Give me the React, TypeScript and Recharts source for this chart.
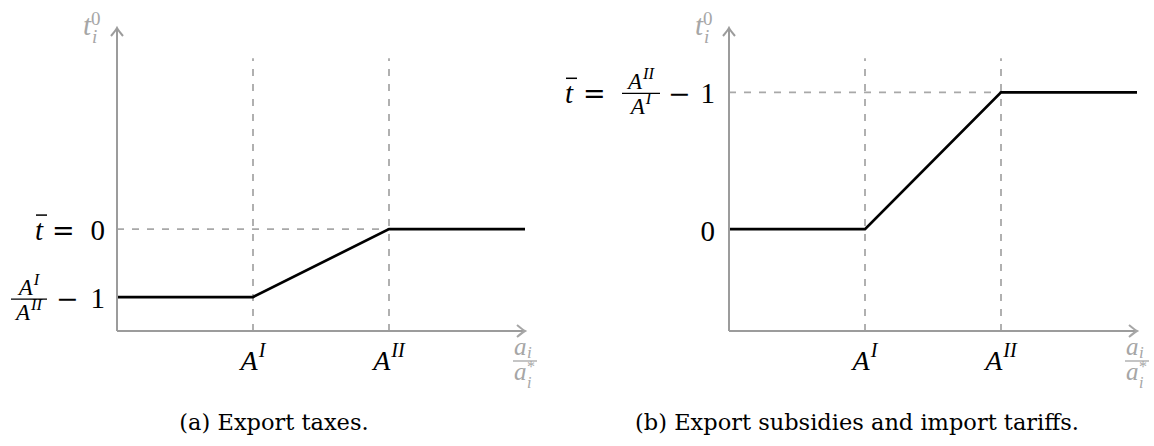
import { LineChart, Line, XAxis, YAxis, ReferenceLine, ReferenceDot } from 'recharts';

// piecewise policy schedules t_i^0 against a_i / a_i^*
const xPoints = [0, 1, 2, 3];
const taxValues = [-1, -1, 0, 0];
const subsidyValues = [0, 0, 1, 1];

const xTicks = [1, 2];
const xTickSup = ['I', 'II'];
const taxTicks = [-1, 0];
const subsidyTicks = [0, 1];

const captions = ['(a) Export taxes.', '(b) Export subsidies and import tariffs.'];

const MATH = '"Liberation Serif", "DejaVu Serif", serif';
const OP = '"DejaVu Serif", serif';
const GRAY = '#9c9c9c';
const DASH = '#a8a8a8';
const LABEL = '#a6a6a6';

const taxData = xPoints.map((x, i) => ({ x, y: taxValues[i] }));
const subsidyData = xPoints.map((x, i) => ({ x, y: subsidyValues[i] }));

function SupA({ sup, size }: { sup: string; size: number }) {
  return (
    <>
      <tspan fontStyle="italic">A</tspan>
      <tspan fontStyle="italic" fontSize={size * 0.72} dy={-size * 0.45} dx={1}>
        {sup}
      </tspan>
    </>
  );
}

function Frac({ cx, barY, half, num, den }: { cx: number; barY: number; half: number; num: string; den: string }) {
  return (
    <g fontFamily={MATH} fill="#000">
      <text x={cx} y={barY - 4} textAnchor="middle" fontSize={23}>
        <SupA sup={num} size={23} />
      </text>
      <line x1={cx - half} x2={cx + half} y1={barY} y2={barY} stroke="#000" strokeWidth={1.3} />
      <text x={cx} y={barY + 21} textAnchor="middle" fontSize={23}>
        <SupA sup={den} size={23} />
      </text>
    </g>
  );
}

function TBar({ x, y }: { x: number; y: number }) {
  return (
    <g>
      <text x={x} y={y} fontFamily={MATH} fontStyle="italic" fontSize={29} fill="#000">
        t
      </text>
      <line x1={x + 1} x2={x + 12} y1={y - 25} y2={y - 25} stroke="#000" strokeWidth={1.5} />
    </g>
  );
}

function Num({ x, y, v }: { x: number; y: number; v: string }) {
  return (
    <text x={x} y={y} textAnchor="end" fontFamily={MATH} fontSize={29} fill="#000">
      {v}
    </text>
  );
}

function Op({ x, y, v }: { x: number; y: number; v: string }) {
  return (
    <text x={x} y={y} fontFamily={OP} fontSize={27} fill="#000">
      {v}
    </text>
  );
}

function XTick(props: any) {
  const { x, y, payload } = props;
  const sup = xTickSup[xTicks.indexOf(payload.value)];
  return (
    <text x={x} y={y + 39} textAnchor="middle" fontFamily={MATH} fontSize={28} fill="#000">
      <SupA sup={sup} size={28} />
    </text>
  );
}

function TaxTick(props: any) {
  const { x, y, payload } = props;
  const R = x - 12;
  const b = y + 11;
  if (payload.value === 0) {
    return (
      <g>
        <TBar x={R - 70} y={b} />
        <Op x={R - 53} y={b} v="=" />
        <Num x={R} y={b} v="0" />
      </g>
    );
  }
  return (
    <g>
      <Frac cx={R - 76} barY={y + 2} half={18} num="I" den="II" />
      <Op x={R - 49} y={b} v="−" />
      <Num x={R} y={b} v="1" />
    </g>
  );
}

function SubsidyTick(props: any) {
  const { x, y, payload } = props;
  const R = x - 14;
  const b = y + 11;
  if (payload.value === 0) {
    return <Num x={R} y={y + 12} v="0" />;
  }
  return (
    <g>
      <TBar x={R - 150} y={b} />
      <Op x={R - 132} y={b} v="=" />
      <Frac cx={R - 74} barY={y + 1} half={19} num="II" den="I" />
      <Op x={R - 47} y={b} v="−" />
      <Num x={R} y={b} v="1" />
    </g>
  );
}

function ArrowUp(props: any) {
  const { cx, cy } = props;
  return (
    <g>
      <path
        d={`M${cx - 6},${cy + 8} Q${cx - 1},${cy + 2} ${cx},${cy} Q${cx + 1},${cy + 2} ${cx + 6},${cy + 8}`}
        fill="none"
        stroke={GRAY}
        strokeWidth={2}
      />
      <text x={cx - 34} y={cy + 7} fontFamily={MATH} fill={LABEL} fontSize={29}>
        <tspan fontStyle="italic">t</tspan>
        <tspan x={cx - 26} dy={-10} fontSize={19}>0</tspan>
        <tspan x={cx - 25} dy={18} fontSize={19} fontStyle="italic">i</tspan>
      </text>
    </g>
  );
}

function ArrowRight(props: any) {
  const { cx, cy } = props;
  return (
    <g>
      <path
        d={`M${cx - 8},${cy - 6} Q${cx - 2},${cy - 1} ${cx},${cy} Q${cx - 2},${cy + 1} ${cx - 8},${cy + 6}`}
        fill="none"
        stroke={LABEL}
        strokeWidth={2}
      />
      <text x={cx - 11} y={cy + 24} fontFamily={MATH} fill={LABEL} fontSize={25} fontStyle="italic">
        a<tspan x={cx + 2} dy={3} fontSize={17}>i</tspan>
      </text>
      <line x1={cx - 12} x2={cx + 12} y1={cy + 30} y2={cy + 30} stroke={LABEL} strokeWidth={1.3} />
      <text x={cx - 11} y={cy + 49} fontFamily={MATH} fill={LABEL} fontSize={25} fontStyle="italic">
        a
        <tspan x={cx + 2} dy={-8} fontSize={16} fontStyle="normal">*</tspan>
        <tspan x={cx + 2} dy={16} fontSize={16}>i</tspan>
      </text>
    </g>
  );
}

interface PanelProps {
  data: { x: number; y: number }[];
  yDomain: [number, number];
  yTicks: number[];
  tick: (p: any) => any;
  hLine: number;
  width: number;
  yWidth: number;
  right: number;
}

function Panel({ data, yDomain, yTicks, tick, hLine, width, yWidth, right }: PanelProps) {
  const [yMin, yMax] = yDomain;
  const dashTop = yMin + (yMax - yMin) * 0.9;
  return (
    <LineChart width={width} height={400} data={data} margin={{ top: 28, right, bottom: 9, left: 0 }}>
      <XAxis
        dataKey="x"
        type="number"
        domain={[0, 3]}
        ticks={xTicks}
        interval={0}
        tick={(p: any) => <XTick {...p} />}
        tickLine={false}
        tickSize={0}
        tickMargin={0}
        axisLine={{ stroke: GRAY, strokeWidth: 2 }}
        height={60}
      />
      <YAxis
        type="number"
        domain={yDomain}
        ticks={yTicks}
        interval={0}
        allowDataOverflow
        tick={tick}
        tickLine={false}
        tickSize={0}
        tickMargin={0}
        axisLine={{ stroke: GRAY, strokeWidth: 2 }}
        width={yWidth}
      />
      {xTicks.map((t) => (
        <ReferenceLine
          key={t}
          segment={[{ x: t, y: yMin }, { x: t, y: dashTop }]}
          stroke={DASH}
          strokeWidth={1.8}
          strokeDasharray="7 8"
        />
      ))}
      <ReferenceLine
        segment={[{ x: 0, y: hLine }, { x: 2, y: hLine }]}
        stroke={DASH}
        strokeWidth={1.8}
        strokeDasharray="7 8"
      />
      <Line dataKey="y" stroke="#000" strokeWidth={2.7} dot={false} isAnimationActive={false} />
      <ReferenceDot x={3} y={yMin} r={0} shape={(p: any) => <ArrowRight {...p} />} />
      <ReferenceDot x={0} y={yMax} r={0} shape={(p: any) => <ArrowUp {...p} />} />
    </LineChart>
  );
}

export default function App() {
  const capStyle = {
    position: 'absolute' as const,
    top: 411,
    width: 600,
    textAlign: 'center' as const,
    fontFamily: '"DejaVu Serif", serif',
    fontSize: 22.5,
    lineHeight: 1,
    color: '#000',
  };
  return (
    <div style={{ position: 'absolute', left: 0, top: 0, width: 1154, height: 446, background: '#fff' }}>
      <div style={{ position: 'absolute', left: 0, top: 0 }}>
        <Panel
          data={taxData}
          yDomain={[-1.5, 2.96]}
          yTicks={taxTicks}
          tick={(p: any) => <TaxTick {...p} />}
          hLine={0}
          width={550}
          yWidth={117}
          right={25}
        />
      </div>
      <div style={{ position: 'absolute', left: 550, top: 0 }}>
        <Panel
          data={subsidyData}
          yDomain={[-0.745, 1.47]}
          yTicks={subsidyTicks}
          tick={(p: any) => <SubsidyTick {...p} />}
          hLine={1}
          width={604}
          yWidth={179}
          right={17}
        />
      </div>
      <div style={{ ...capStyle, left: 274 - 300 }}>{captions[0]}</div>
      <div style={{ ...capStyle, left: 857 - 300 }}>{captions[1]}</div>
    </div>
  );
}
